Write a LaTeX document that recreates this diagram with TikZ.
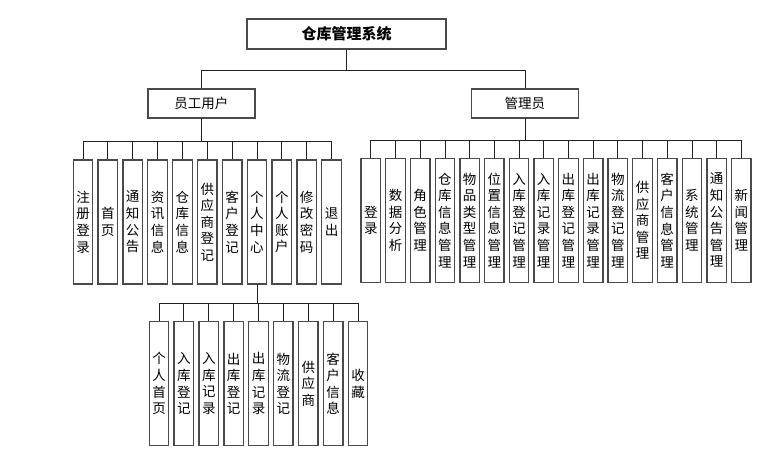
\documentclass[tikz,border=0pt]{standalone}
\usepackage{fontspec}
\setmainfont{Noto Sans CJK SC}
\usepackage{tikz}
\definecolor{CKBorder}{HTML}{4A4A4A}
\definecolor{CKLine}{HTML}{202020}
\tikzset{
  sysbox/.style={draw=CKBorder,line width=1.3pt,minimum width=199pt,minimum height=30pt,inner sep=0pt,font=\fontsize{15}{18}\selectfont\bfseries},
  rolebox/.style={draw=CKBorder,line width=1.3pt,minimum width=107pt,minimum height=29pt,inner sep=0pt,font=\fontsize{13.5}{16}\selectfont},
  funcbox/.style={draw=CKBorder,line width=1.3pt,minimum width=19.5pt,minimum height=124pt,inner sep=0pt,align=center,font=\fontsize{13.5}{16.6}\selectfont},
  link/.style={draw=CKLine,line width=0.8pt}
}

\begin{document}
\begin{tikzpicture}[x=1pt,y=-1pt]
\path[use as bounding box] (0,0) rectangle (769,457);
% top levels
\node[sysbox] (sys) at (346.5,34) {仓库管理系统};
\node[rolebox] (emp) at (201.4,103.5) {员工用户};
\node[rolebox] (adm) at (524.9,103.5) {管理员};
\draw[link] (sys.south) -- ++(0,21) -| (emp.north);
\draw[link] (sys.south) -- ++(0,21) -| (adm.north);
% employee functions
\foreach \t [count=\i from 0] in {注\\册\\登\\录,首\\页,通\\知\\公\\告,资\\讯\\信\\息,仓\\库\\信\\息,供\\应\\商\\登\\记,客\\户\\登\\记,个\\人\\中\\心,个\\人\\账\\户,修\\改\\密\\码,退\\出}{
  \node[funcbox] (e\i) at ({83+24.85*\i},222) {\t};
  \draw[link] (emp.south) -- ++(0,23) -| (e\i.north);
}
% personal centre
\foreach \t [count=\i from 0] in {个\\人\\首\\页,入\\库\\登\\记,入\\库\\记\\录,出\\库\\登\\记,出\\库\\记\\录,物\\流\\登\\记,供\\应\\商,客\\户\\信\\息,收\\藏}{
  \node[funcbox] (p\i) at ({159+24.875*\i},383.7) {\t};
  \draw[link] (e7.south) -- ++(0,19) -| (p\i.north);
}
% admin functions
\foreach \t [count=\i from 0] in {登\\录,数\\据\\分\\析,角\\色\\管\\理,仓\\库\\信\\息\\管\\理,物\\品\\类\\型\\管\\理,位\\置\\信\\息\\管\\理,入\\库\\登\\记\\管\\理,入\\库\\记\\录\\管\\理,出\\库\\登\\记\\管\\理,出\\库\\记\\录\\管\\理,物\\流\\登\\记\\管\\理,供\\应\\商\\管\\理,客\\户\\信\\息\\管\\理,系\\统\\管\\理,通\\知\\公\\告\\管\\理,新\\闻\\管\\理}{
  \node[funcbox] (a\i) at ({370.8+24.7*\i},220.3) {\t};
  \draw[link] (adm.south) -- ++(0,21.5) -| (a\i.north);
}
\end{tikzpicture}
\end{document}
